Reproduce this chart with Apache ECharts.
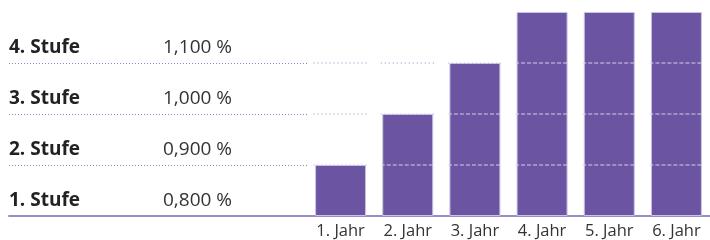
<!DOCTYPE html>
<html>
<head>
<meta charset="utf-8">
<script src="https://cdn.jsdelivr.net/npm/echarts@6/dist/echarts.min.js"></script>
<style>
  html, body { margin: 0; padding: 0; background: #fff; }
  #chart { width: 710px; height: 240px; }
</style>
</head>
<body>
<div id="chart"></div>
<script>
// Stufen (links) und Jahre (Balken)
const stufen = ['1. Stufe', '2. Stufe', '3. Stufe', '4. Stufe']
const zinsen = ['0,800 %', '0,900 %', '1,000 %', '1,100 %']
const jahre = ['1. Jahr', '2. Jahr', '3. Jahr', '4. Jahr', '5. Jahr', '6. Jahr']
const stufeProJahr = [1, 2, 3, 4, 4, 4]
const ebenen = [1, 2, 3]

const FONT = 'Open Sans'
const lila = '#6b55a3'
const linie = '#9a8cc8'
const punkt = '#8e80c0'

// Linien je Jahr und Ebene
const ebenenDaten = []
jahre.forEach((j, i) => {
  ebenen.forEach(e => ebenenDaten.push([i, e]))
})

const chart = echarts.init(document.getElementById('chart'))
const option = {
  animation: false,
  grid: [
    { left: 9, width: 298, top: 12, bottom: 24 },
    { left: 307, width: 408, top: 12, bottom: 24 }
  ],
  xAxis: [
    {
      gridIndex: 0,
      type: 'value',
      min: 0,
      max: 1,
      axisLine: { show: true, lineStyle: { color: linie, width: 2 } },
      axisTick: { show: false },
      axisLabel: { show: false },
      splitLine: { show: false }
    },
    {
      gridIndex: 1,
      type: 'category',
      data: jahre,
      axisLine: { show: true, lineStyle: { color: linie, width: 2 } },
      axisTick: { show: false },
      axisLabel: { color: '#333', fontFamily: FONT, fontSize: 16.5, margin: 7 }
    }
  ],
  yAxis: [
    {
      gridIndex: 0,
      type: 'value',
      min: 0,
      max: 4,
      interval: 1,
      axisLine: { show: false },
      axisTick: { show: false },
      splitLine: {
        show: true,
        showMaxLine: false,
        lineStyle: { color: punkt, type: [1, 2], width: 1 }
      },
      axisLabel: {
        inside: true,
        showMaxLabel: false,
        margin: 0,
        verticalAlign: 'bottom',
        formatter: function (v) {
          if (v >= stufen.length) return ''
          return '{a|' + stufen[v] + '}{b|' + zinsen[v] + '}'
        },
        rich: {
          a: { fontFamily: FONT, fontWeight: 'bold', fontSize: 19, color: '#222', width: 154, lineHeight: 30 },
          b: { fontFamily: FONT, fontSize: 19, color: '#333', lineHeight: 30 }
        }
      }
    },
    {
      gridIndex: 1,
      type: 'value',
      min: 0,
      max: 4,
      interval: 1,
      axisLine: { show: false },
      axisTick: { show: false },
      axisLabel: { show: false },
      splitLine: { show: false }
    }
  ],
  series: [
    {
      type: 'bar',
      xAxisIndex: 1,
      yAxisIndex: 1,
      data: stufeProJahr,
      barWidth: 51,
      itemStyle: { color: lila, borderColor: '#cbc3e3', borderWidth: 1 }
    },
    {
      type: 'custom',
      xAxisIndex: 1,
      yAxisIndex: 1,
      data: ebenenDaten,
      z: 5,
      renderItem: function (params, api) {
        const i = api.value(0)
        const e = api.value(1)
        const p = api.coord([i, e])
        const halb = 27
        const innen = e < stufeProJahr[i]
        const oben = e === stufeProJahr[i]
        return {
          type: 'line',
          shape: { x1: p[0] - halb, y1: p[1], x2: p[0] + halb, y2: p[1] },
          style: {
            stroke: innen ? 'rgba(225,220,240,0.9)' : (oben ? '#b8aedb' : punkt),
            lineWidth: 1,
            lineDash: innen ? [4, 2] : [1, 3]
          }
        }
      }
    }
  ]
}
chart.setOption(option)
</script>
</body>
</html>
